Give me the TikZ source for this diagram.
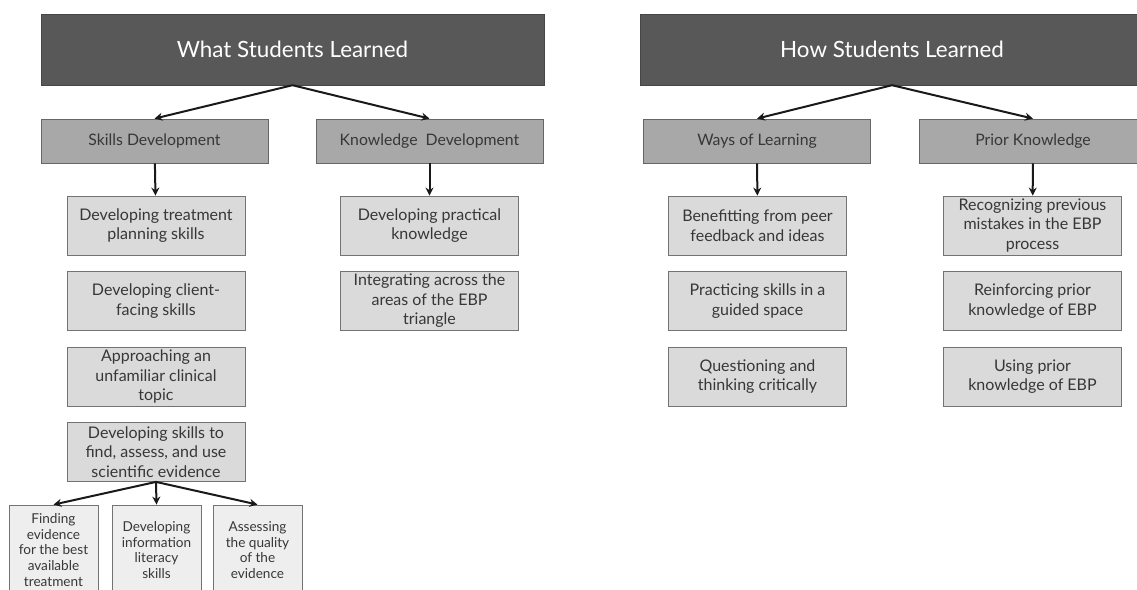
\documentclass[tikz,border=0pt]{standalone}
\usepackage{fontspec}
\setmainfont{Lato}
\usepackage{tikz}
\usetikzlibrary{arrows.meta,positioning}
\definecolor{headgray}{RGB}{88,88,88}
\definecolor{catgray}{RGB}{168,168,168}
\definecolor{itemgray}{RGB}{218,218,218}
\definecolor{leafgray}{RGB}{238,238,238}
\definecolor{txtgray}{RGB}{55,55,55}

\begin{document}
\begin{tikzpicture}[
  x=1pt, y=-1pt,
  head/.style={
    draw=headgray!80!black, fill=headgray, text=white,
    minimum width=503pt, minimum height=71pt, inner sep=0pt,
    font=\fontsize{22.4}{26}\selectfont
  },
  cat/.style={
    draw=black!60, fill=catgray, text=txtgray, line width=0.8pt,
    minimum width=227pt, minimum height=44pt, inner sep=0pt,
    font=\fontsize{15.8}{18}\selectfont
  },
  item/.style={
    draw=black!55, fill=itemgray, text=txtgray, line width=0.8pt,
    minimum width=178pt, minimum height=59pt, inner sep=0pt,
    align=center, font=\fontsize{16}{19.5}\selectfont
  },
  leaf/.style={
    draw=black!55, fill=leafgray, text=txtgray, line width=0.8pt,
    minimum width=89pt, minimum height=90pt, inner sep=0pt,
    align=center, font=\fontsize{13.6}{15.7}\selectfont
  },
  arr/.style={-{Stealth[length=8pt,width=8pt]}, line width=2pt, black!90},
]
\useasboundingbox (0,0) rectangle (1137,589);
\clip (0,0) rectangle (1137,589);
\fill[white] (0,0) rectangle (1137,589);

% what students learned
\node[head] (what)  at (292.5,49.5) {What Students Learned};
\node[cat]  (skill) at (154.5,141)  {Skills Development};
\node[cat]  (know)  at (429.5,141)  {Knowledge~~Development};

\node[item] (treat)  at (156,225.5) {Developing treatment\\planning skills};
\node[item] (client) at (156,301)   {Developing client-\\facing skills};
\node[item] (topic)  at (156,376.5) {Approaching an\\unfamiliar clinical\\topic};
\node[item] (find)   at (156,452)   {Developing skills to\\find, assess, and use\\scientific evidence};

\node[leaf] (best)  at (53.5,550)  {Finding\\evidence\\for the best\\available\\treatment};
\node[leaf] (infol) at (156.5,550) {Developing\\information\\literacy\\skills};
\node[leaf] (qual)  at (257.5,550) {Assessing\\the quality\\of the\\evidence};

\node[item] (pract) at (429.5,225.5) {Developing practical\\knowledge};
\node[item] (integ) at (429.5,301)   {Integrating across the\\areas of the EBP\\triangle};

% how students learned
\node[head] (how)   at (892,49.5) {How Students Learned};
\node[cat]  (ways)  at (757,141)  {Ways of Learning};
\node[cat]  (prior) at (1033,141) {Prior Knowledge};

\node[item] (peer)   at (757.5,225.5) {Benefitting from peer\\feedback and ideas};
\node[item] (guided) at (757.5,301)   {Practicing skills in a\\guided space};
\node[item] (quest)  at (757.5,376.5) {Questioning and\\thinking critically};

\node[item] (recog) at (1032.5,225.5) {Recognizing previous\\mistakes in the EBP\\process};
\node[item] (reinf) at (1032.5,301)   {Reinforcing prior\\knowledge of EBP};
\node[item] (using) at (1032.5,376.5) {Using prior\\knowledge of EBP};

\draw[arr] (what.south) -- (skill.north);
\draw[arr] (what.south) -- (know.north);
\draw[arr] (skill) -- (treat);
\draw[arr] (know)  -- (pract);
\draw[arr] (find.south) -- (best.north);
\draw[arr] (find.south) -- (infol.north);
\draw[arr] (find.south) -- (qual.north);

\draw[arr] (how.south) -- (ways.north);
\draw[arr] (how.south) -- (prior.north);
\draw[arr] (ways)  -- (peer);
\draw[arr] (prior) -- (recog);

\end{tikzpicture}
\end{document}
